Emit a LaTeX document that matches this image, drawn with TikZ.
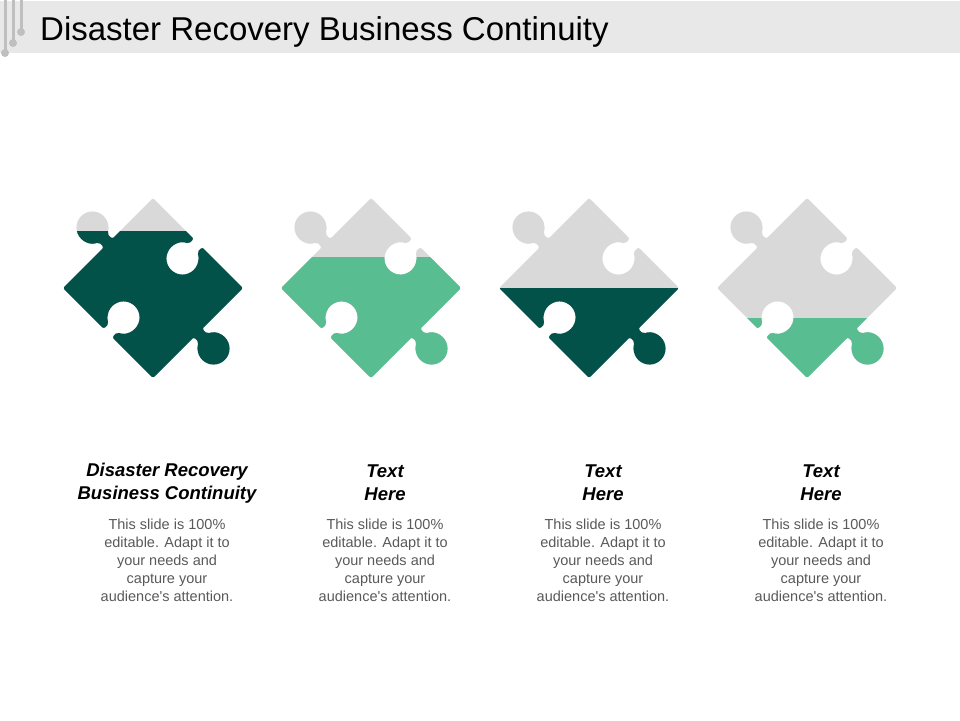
\documentclass[tikz,border=0pt]{standalone}
\usepackage{fontspec}
\setmainfont{Liberation Sans}
\usetikzlibrary{positioning}

\definecolor{darkgreen}{RGB}{2,82,74}
\definecolor{lightgreen}{RGB}{88,189,145}
\definecolor{piecegray}{RGB}{217,217,217}
\definecolor{titlegray}{RGB}{232,232,232}
\definecolor{linegray}{RGB}{191,191,191}
\definecolor{bodygray}{RGB}{89,89,89}

% one puzzle piece, centred on the origin, before turning it
\newcommand{\piecepath}{(-63.64,-63.64) -- (-6,-63.64) -- (-6,-56.47) arc (112.03:427.97:16pt) -- (6,-63.64)
  -- (63.64,-63.64) -- (63.64,-6) -- (70.81,-6) arc (157.97:-157.97:16pt) -- (63.64,6)
  -- (63.64,63.64) -- (6,63.64) -- (6,56.47) arc (-67.97:247.97:16pt) -- (-6,63.64)
  -- (-63.64,63.64) -- (-63.64,6) -- (-70.81,6) arc (-22.03:-337.97:16pt) -- (-63.64,-6) -- cycle}

\begin{document}
\begin{tikzpicture}[x=1pt,y=-1pt,
    piece/.style={rounded corners=2pt,shift={(#1,288)},rotate=-45},
    headtext/.style={inner sep=0pt,align=center,font=\fontsize{18.5}{23}\selectfont\bfseries\itshape},
    bodytext/.style={inner sep=0pt,align=center,text=bodygray,font=\fontsize{14.5}{18}\selectfont}]

    \useasboundingbox (0,0) rectangle (960,720);

    % title bar
    \fill[titlegray] (0,1) rectangle (960,53);
    \draw[linegray,line width=3pt] (5,0) -- (5,53) (13,0) -- (13,43) (21,0) -- (21,32);
    \fill[linegray] (5,53) circle (4) (13,43) circle (4) (21,32) circle (4);
    \node[anchor=base west,inner sep=0pt,font=\fontsize{33}{33}\selectfont] (title) at (40,40) {Disaster Recovery Business Continuity};

    % pieces
    \foreach \cx/\lev/\col in {153/231/darkgreen, 371/257/lightgreen, 589/288/darkgreen, 807/318/lightgreen}{
        \fill[piecegray,piece=\cx] \piecepath;
        \begin{scope}
            \clip (\cx-120,\lev) rectangle (\cx+120,400);
            \fill[\col,piece=\cx] \piecepath;
        \end{scope}
    }

    % texts
    \foreach \tx/\head [count=\i] in {167/{Disaster Recovery\\Business Continuity}, 385/{Text\\Here}, 603/{Text\\Here}, 821/{Text\\Here}}{
        \node[headtext] (head\i) at (\tx,483) {\head};
        \node[bodytext] (body\i) at (\tx,560) {This slide is 100\%\\editable. Adapt it to\\your needs and\\capture your\\audience\textquotesingle s attention.};
    }

\end{tikzpicture}
\end{document}
